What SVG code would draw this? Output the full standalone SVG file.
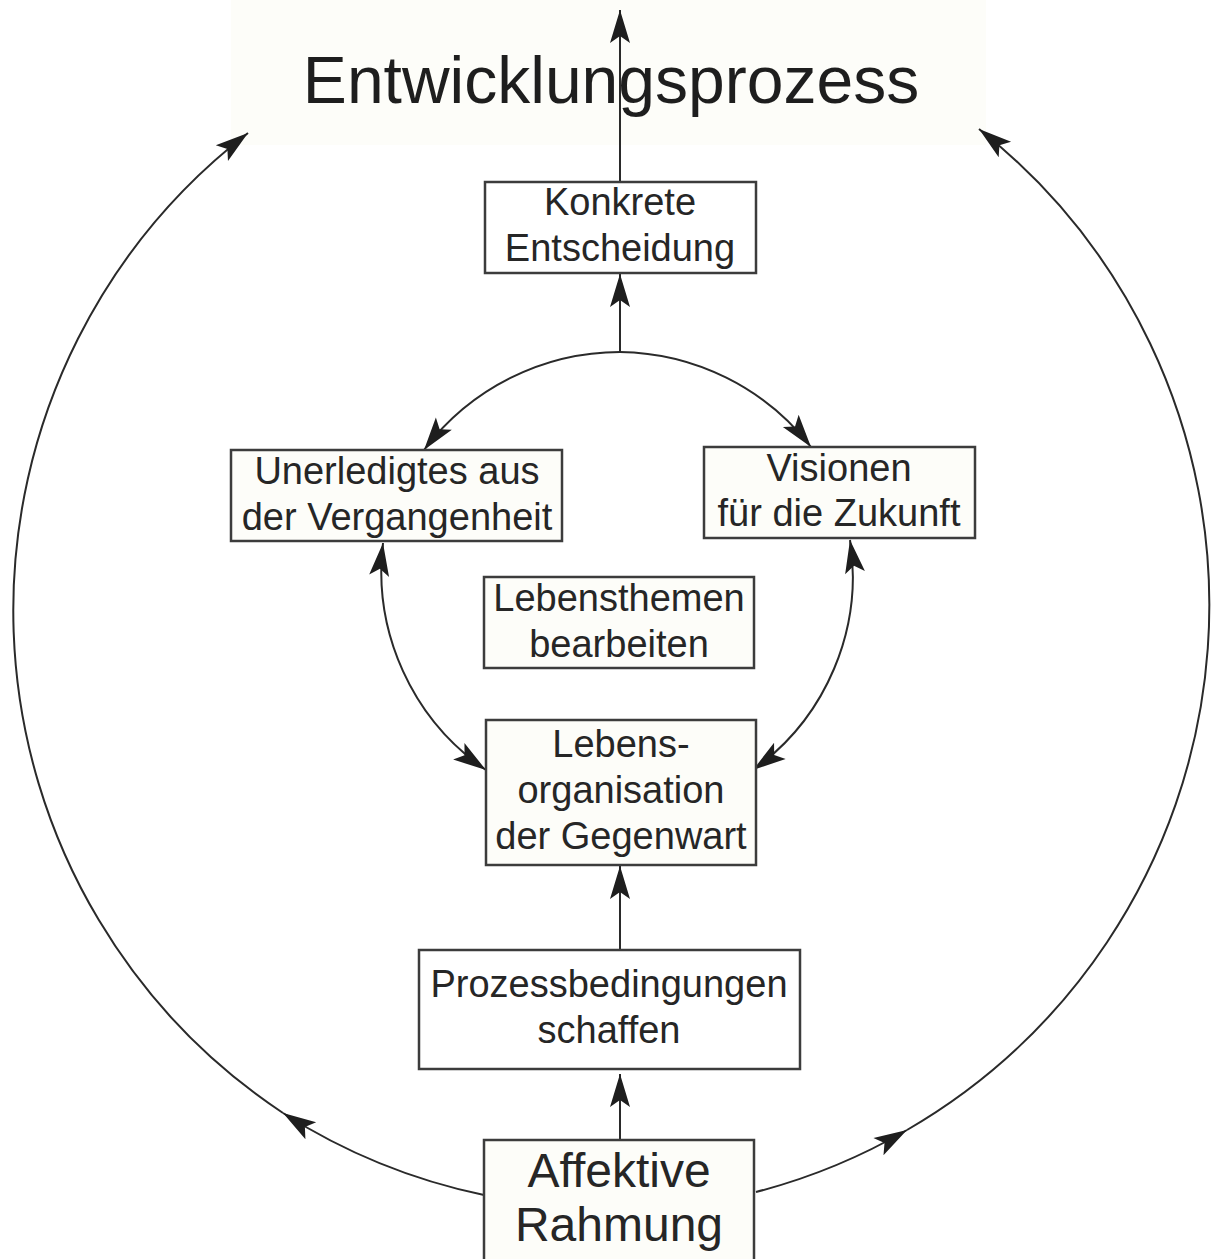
<svg xmlns="http://www.w3.org/2000/svg" width="1211" height="1259" viewBox="0 0 1211 1259">
  <style>
    .box { stroke: #3c3c3c; stroke-width: 2.5; }
    .pale { fill: #fdfdf9; }
    .white { fill: #ffffff; }
    .lbl { font-family: "Liberation Sans", Arial, sans-serif; font-size: 38px; fill: #262626; text-anchor: middle; }
    .big { font-size: 48px; }
    .title { font-family: "Liberation Sans", Arial, sans-serif; font-size: 66px; fill: #1e1e1e; text-anchor: middle; }
    .edge { fill: none; stroke: #2a2a2a; stroke-width: 2; }
    .arr { marker-end: url(#head); }
    .both { marker-start: url(#tail); marker-end: url(#head); }
  </style>
  <defs>
    <marker id="head" markerUnits="userSpaceOnUse" markerWidth="40" markerHeight="24" viewBox="-34 -12 36 24" refX="0" refY="0" orient="auto">
      <path d="M0,0 L-33,-10 L-26,0 L-33,10 Z" fill="#1e1e1e"/>
    </marker>
    <marker id="tail" markerUnits="userSpaceOnUse" markerWidth="40" markerHeight="24" viewBox="-2 -12 36 24" refX="0" refY="0" orient="auto">
      <path d="M0,0 L33,-10 L26,0 L33,10 Z" fill="#1e1e1e"/>
    </marker>
  </defs>

  <rect width="1211" height="1259" fill="#ffffff"/>

  <!-- title area -->
  <g id="entwicklungsprozess">
    <rect x="231" y="0" width="755" height="145" class="pale"/>
    <text x="611" y="103" class="title">Entwicklungsprozess</text>
  </g>

  <!-- connectors -->
  <g id="connectors">
    <!-- straight spine -->
    <path class="edge arr" d="M620,182 L620,10"/>
    <path class="edge arr" d="M620,352 L620,274"/>
    <path class="edge arr" d="M620,950 L620,866"/>
    <path class="edge arr" d="M620,1140 L620,1074"/>
    <!-- split towards past and future -->
    <path class="edge arr" d="M620,352 A246,246 0 0,0 424,450"/>
    <path class="edge arr" d="M620,352 A246,246 0 0,1 811,447"/>
    <!-- two-way links to the present -->
    <path class="edge both" d="M383,543 A241,241 0 0,0 486,770"/>
    <path class="edge both" d="M850,540 A238,238 0 0,1 753,770"/>
    <!-- outer arcs from the affective frame -->
    <path class="edge arr" d="M484,1195 A600,600 0 0,1 283,1113"/>
    <path class="edge arr" d="M283,1113 A603,603 0 0,1 248,133"/>
    <path class="edge arr" d="M756,1192 A600,600 0 0,0 907,1130"/>
    <path class="edge arr" d="M907,1130 A607,607 0 0,0 979,129"/>
  </g>

  <g id="konkrete-entscheidung">
    <rect x="485" y="182" width="271" height="91" class="box white"/>
    <text x="620" y="215" class="lbl">Konkrete</text>
    <text x="620" y="261" class="lbl">Entscheidung</text>
  </g>

  <g id="unerledigtes">
    <rect x="231" y="450" width="331" height="91" class="box pale"/>
    <text x="397" y="484" class="lbl">Unerledigtes aus</text>
    <text x="397" y="530" class="lbl">der Vergangenheit</text>
  </g>

  <g id="visionen">
    <rect x="704" y="447" width="271" height="91" class="box pale"/>
    <text x="839" y="481" class="lbl">Visionen</text>
    <text x="839" y="526" class="lbl">für die Zukunft</text>
  </g>

  <g id="lebensthemen">
    <rect x="484" y="577" width="270" height="91" class="box pale"/>
    <text x="619" y="611" class="lbl">Lebensthemen</text>
    <text x="619" y="657" class="lbl">bearbeiten</text>
  </g>

  <g id="lebensorganisation">
    <rect x="486" y="720" width="270" height="145" class="box pale"/>
    <text x="621" y="757" class="lbl">Lebens-</text>
    <text x="621" y="803" class="lbl">organisation</text>
    <text x="621" y="849" class="lbl">der Gegenwart</text>
  </g>

  <g id="prozessbedingungen">
    <rect x="419" y="950" width="381" height="119" class="box white"/>
    <text x="609" y="997" class="lbl">Prozessbedingungen</text>
    <text x="609" y="1043" class="lbl">schaffen</text>
  </g>

  <g id="affektive-rahmung">
    <rect x="484" y="1140" width="270" height="135" class="box pale"/>
    <text x="619" y="1187" class="lbl big">Affektive</text>
    <text x="619" y="1241" class="lbl big">Rahmung</text>
  </g>
</svg>
